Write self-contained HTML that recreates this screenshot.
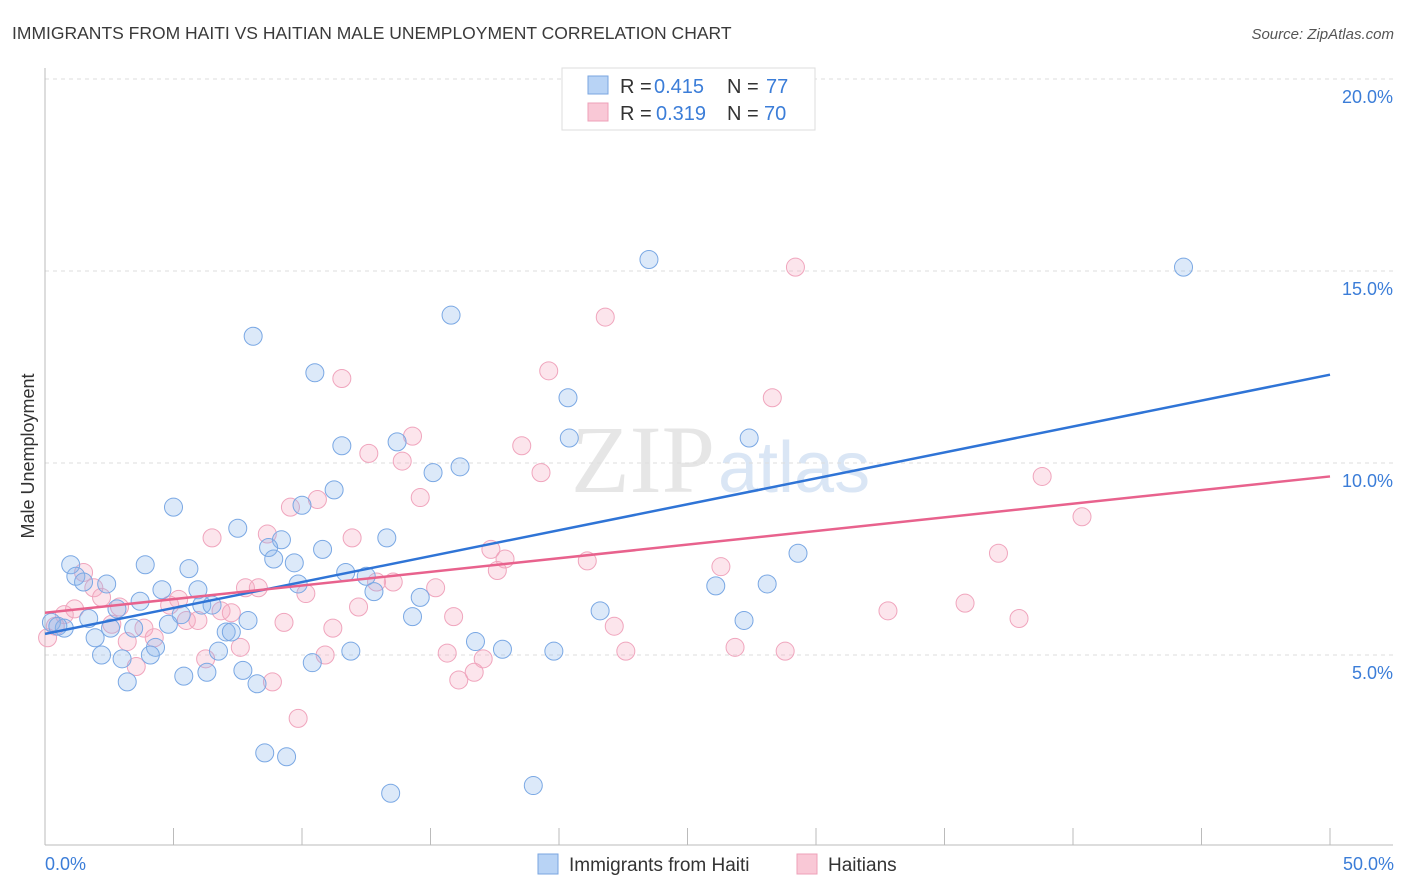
<!DOCTYPE html>
<html><head><meta charset="utf-8"><style>
body{margin:0;background:#fff;font-family:"Liberation Sans",sans-serif;}
svg{display:block}
</style></head><body>
<svg id="chart" width="1406" height="892" xmlns="http://www.w3.org/2000/svg">
<text x="12" y="39" font-size="17.5" fill="#3a3a3a">IMMIGRANTS FROM HAITI VS HAITIAN MALE UNEMPLOYMENT CORRELATION CHART</text>
<text x="1394" y="39" font-size="15" fill="#555" text-anchor="end" font-style="italic">Source: ZipAtlas.com</text>
<text x="715" y="492" font-size="96" fill="#e6e6e6" text-anchor="end" font-family="Liberation Serif">ZIP</text>
<text x="718" y="492" font-size="72" fill="#dae6f5">atlas</text>
<g id="grid"></g>
<g id="axes"></g>
<g id="marks"></g>
<text transform="translate(34,456) rotate(-90)" font-size="18" fill="#333" text-anchor="middle">Male Unemployment</text>
<text x="45" y="870" font-size="18" fill="#3b7dd8">0.0%</text>
<text x="1394" y="870" font-size="18" fill="#3b7dd8" text-anchor="end">50.0%</text>
<g>
<rect x="562" y="68" width="253" height="62" fill="#fff" stroke="#ddd"/>
<rect x="588" y="76" width="20" height="18" fill="#b8d3f5" stroke="#7aa6e0"/>
<rect x="588" y="103" width="20" height="18" fill="#f9c8d6" stroke="#eea0b8"/>
<text x="620" y="93" font-size="20" fill="#333">R = </text>
<text x="654" y="93" font-size="20" fill="#3b7dd8">0.415</text>
<text x="727" y="93" font-size="20" fill="#333">N = </text>
<text x="766" y="93" font-size="20" fill="#3b7dd8">77</text>
<text x="620" y="120" font-size="20" fill="#333">R = </text>
<text x="656" y="120" font-size="20" fill="#3b7dd8">0.319</text>
<text x="727" y="120" font-size="20" fill="#333">N = </text>
<text x="764" y="120" font-size="20" fill="#3b7dd8">70</text>
</g>
<g>
<rect x="538" y="854" width="20" height="20" fill="#b8d3f5" stroke="#7aa6e0"/>
<text x="569" y="871" font-size="19" fill="#333">Immigrants from Haiti</text>
<rect x="797" y="854" width="20" height="20" fill="#f9c8d6" stroke="#eea0b8"/>
<text x="828" y="871" font-size="19" fill="#333">Haitians</text>
</g>
</svg>
<script>
const yTicks=[5,10,15,20];
const yTickLabels=["5.0%","10.0%","15.0%","20.0%"];
const blueX=[23.5,44.3,8.1,15.8,10.5,20.35,20.4,27.4,11.55,13.7,16.15,15.1,11.25,5.0,10.0,7.5,9.2,13.3,8.7,10.8,29.3,1.0,3.9,8.9,9.7,5.6,11.7,12.5,1.2,1.5,2.4,9.85,26.1,28.1,4.55,5.95,12.8,14.6,3.7,6.1,6.5,2.8,21.6,1.7,5.3,7.9,14.3,27.2,0.25,4.8,2.55,3.45,0.75,0.5,7.05,7.25,1.95,16.75,17.8,4.3,11.9,6.75,19.8,2.2,3.0,4.1,7.7,10.4,6.3,5.4,3.2,8.25,8.55,9.4,13.45,19.0];
const blueY=[15.3,15.1,13.3,13.85,12.35,11.7,10.65,10.65,10.45,10.55,9.9,9.75,9.3,8.85,8.9,8.3,8.0,8.05,7.8,7.75,7.65,7.35,7.35,7.5,7.4,7.25,7.15,7.05,7.05,6.9,6.85,6.85,6.8,6.85,6.7,6.7,6.65,6.5,6.4,6.3,6.3,6.2,6.15,5.95,6.05,5.9,6.0,5.9,5.85,5.8,5.7,5.7,5.7,5.75,5.6,5.6,5.45,5.35,5.15,5.2,5.1,5.1,5.1,5.0,4.9,5.0,4.6,4.8,4.55,4.45,4.3,4.25,2.45,2.35,1.4,1.6];
const pinkX=[29.2,21.8,19.6,11.55,28.3,14.3,18.55,12.6,13.9,19.3,38.8,14.6,10.6,9.55,40.35,6.5,8.65,11.95,17.35,37.1,17.9,21.1,26.3,17.6,1.5,13.55,12.9,7.8,8.3,15.2,1.9,10.15,2.2,5.2,35.8,12.2,2.9,1.15,4.85,32.8,6.85,7.25,15.9,0.75,37.9,5.5,5.95,9.3,2.6,3.85,11.2,22.15,0.4,0.1,4.25,3.2,7.6,26.85,28.8,22.6,15.65,10.9,6.25,17.05,3.55,16.1,16.7,8.85,9.85];
const pinkY=[15.1,13.8,12.4,12.2,11.7,10.7,10.45,10.25,10.05,9.75,9.65,9.1,9.05,8.85,8.6,8.05,8.15,8.05,7.75,7.65,7.5,7.45,7.3,7.2,7.15,6.9,6.9,6.75,6.75,6.75,6.75,6.6,6.5,6.45,6.35,6.25,6.25,6.2,6.3,6.15,6.15,6.1,6.0,6.05,5.95,5.9,5.9,5.85,5.8,5.7,5.7,5.75,5.75,5.45,5.45,5.35,5.2,5.2,5.1,5.1,5.05,5.0,4.9,4.9,4.7,4.35,4.55,4.3,3.35];
const blueTrend=[5.55,12.3];
const pinkTrend=[6.1,9.65];
const NS="http://www.w3.org/2000/svg";
const X0=45,X1=1330,Y0=847,PX=(X1-X0)/50,PY=192/5;
const sx=v=>X0+v*PX, sy=v=>Y0-v*PY;
function mk(t,a,p){const e=document.createElementNS(NS,t);for(const k in a)e.setAttribute(k,a[k]);p.appendChild(e);return e;}
const grid=document.getElementById('grid'),axes=document.getElementById('axes'),marks=document.getElementById('marks');
yTicks.forEach((v,i)=>{
 const l=mk('line',{x1:45,x2:1393,y1:sy(v),y2:sy(v),stroke:'#ddd','stroke-dasharray':'4,4'},grid);
 
 
 const t=mk('text',{x:1393,y:sy(v)+24,'font-size':18,fill:'#3b7dd8','text-anchor':'end'},grid);
 t.textContent=yTickLabels[i];
 
 
});
const ya=mk('line',{x1:45,x2:45,y1:68,y2:845,stroke:'#bbb'},axes);


const xa=mk('line',{x1:45,x2:1393,y1:845,y2:845,stroke:'#bbb'},axes);


for(let i=0;i<=10;i++){const tk=mk('line',{x1:sx(i*5),x2:sx(i*5),y1:828,y2:845,stroke:'#bbb'},axes);
 
 }
function pts(xs,ys,fill,stroke,name){xs.forEach((x,i)=>{const c=mk('circle',{cx:sx(x),cy:sy(ys[i]),r:9,fill:fill,stroke:stroke,'stroke-width':1},marks);
 
 });}
pts(pinkX,pinkY,'rgba(245,170,192,0.3)','#f0a5bd','haitians-point');
pts(blueX,blueY,'rgba(140,182,236,0.3)','#7aa8e4','haiti-immigrants-point');
const bl=mk('line',{x1:sx(0),y1:sy(blueTrend[0]),x2:sx(50),y2:sy(blueTrend[1]),stroke:'#2f74d6','stroke-width':2.5},marks);


const pl=mk('line',{x1:sx(0),y1:sy(pinkTrend[0]),x2:sx(50),y2:sy(pinkTrend[1]),stroke:'#e8628d','stroke-width':2.5},marks);


</script>
</body></html>
